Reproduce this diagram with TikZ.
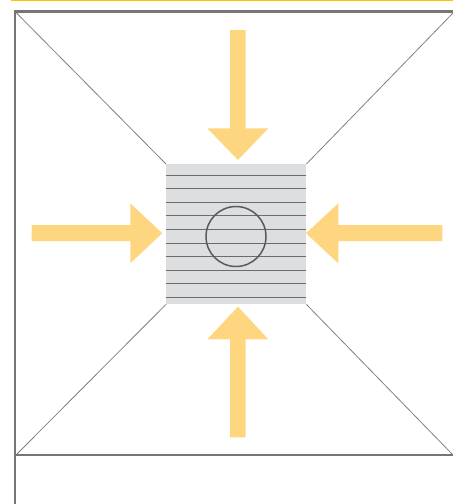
\documentclass[tikz,border=0pt]{standalone}
\begin{document}
\begin{tikzpicture}[x=1pt,y=-1pt]
\definecolor{arrowyellow}{RGB}{255,214,128}
\definecolor{topyellow}{RGB}{255,192,0}
\definecolor{framegray}{RGB}{118,118,118}
\definecolor{diaggray}{RGB}{128,128,128}
\definecolor{boxgray}{RGB}{221,222,224}
\definecolor{stripegray}{RGB}{108,108,108}
\definecolor{circlegray}{RGB}{90,90,90}
\tikzset{
  frameline/.style={draw=framegray, line width=2.4pt},
  diagline/.style={draw=diaggray, line width=0.8pt},
  stripe/.style={draw=stripegray, line width=1pt},
  bigarrow/.style={fill=arrowyellow, draw=none}
}
\useasboundingbox (0,0) rectangle (453,504);
% top yellow rule
\draw[topyellow, line width=1.6pt] (11,0.5) -- (453,0.5);
% frame
\coordinate (TL) at (15,11.5);
\coordinate (TR) at (453,11.5);
\coordinate (BL) at (15,455);
\coordinate (BR) at (453,455);
\coordinate (LB) at (15,504);
% square
\node[fill=boxgray, draw=none, minimum width=140pt, minimum height=140pt, inner sep=0pt, anchor=north west] (sq) at (166,164) {};
% diagonals
\draw[diagline] (16,12.5) -- (sq.north west);
\draw[diagline] (453,13) -- (sq.north east);
\draw[diagline] (16,455) -- (sq.south west);
\draw[diagline] (453,455) -- (sq.south east);
% stripes
\foreach \y in {175,188.6,202.2,215.8,229.4,243,256.6,270.2,283.8,297.4}
  \draw[stripe] (166,\y) -- (306,\y);
% circle
\node[circle, draw=circlegray, line width=1.5pt, minimum size=60pt, inner sep=0pt] (hole) at (236,236.5) {};
% frame lines
\draw[frameline] (TR) -- (TL) -- (LB);
\draw[draw=framegray, line width=1.3pt] (BL) -- (BR);
% arrows
\fill[bigarrow] (230,30) -- (245.7,30) -- (245.7,128.3) -- (268.3,128.3) -- (238,160) -- (207.3,128.3) -- (230,128.3) -- cycle;
\fill[bigarrow] (230,437.3) -- (245.7,437.3) -- (245.7,339.3) -- (268.3,339.3) -- (238,306.7) -- (207.3,339.3) -- (230,339.3) -- cycle;
\fill[bigarrow] (31.7,225) -- (130.3,225) -- (130.3,203.3) -- (162.3,233.3) -- (130.3,263.3) -- (130.3,241) -- (31.7,241) -- cycle;
\fill[bigarrow] (442.3,225) -- (338.3,225) -- (338.3,203.3) -- (306,233.3) -- (338.3,263.3) -- (338.3,241) -- (442.3,241) -- cycle;
\end{tikzpicture}
\end{document}
